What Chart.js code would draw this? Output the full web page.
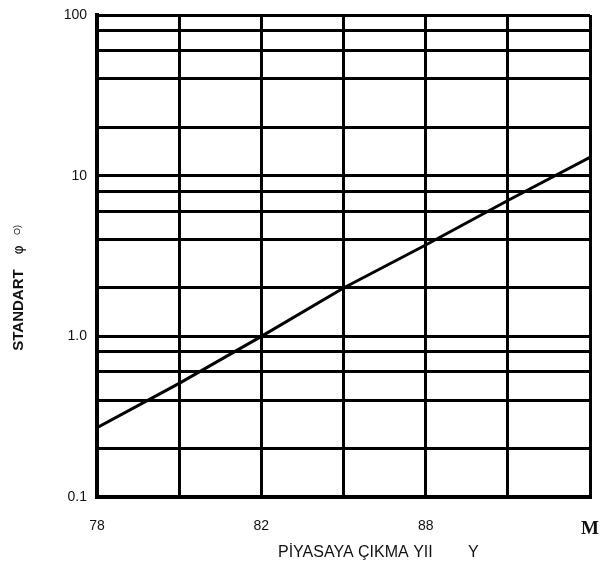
<!DOCTYPE html>
<html>
<head>
<meta charset="utf-8">
<script src="https://cdn.jsdelivr.net/npm/chart.js@4.4.1/dist/chart.umd.min.js"></script>
<style>
  html,body{margin:0;padding:0;background:#fff;}
  #wrap{width:601px;height:561px;}
</style>
</head>
<body>
<div id="wrap"><canvas id="c" width="601" height="561"></canvas></div>
<script>
// data (x = grid column, y = log scale value)
const xValues = [0, 1, 2, 3, 4, 5, 6];
const yValues = [0.27, 0.51, 1.0, 2.0, 3.7, 7.0, 13];
const xTickLabels = ['78', '', '82', '', '88', '', 'M'];
const yTickValues = [0.1, 0.2, 0.4, 0.6, 0.8, 1, 2, 4, 6, 8, 10, 20, 40, 60, 80, 100];
const yTickLabels = {0.1: '0.1', 1: '1.0', 10: '10', 100: '100'};

const yTitle = 'STANDART';
const xTitle = 'PİYASAYA ÇIKMA YII';
const xTitleTail = 'Y';

// titles drawn by hand so they sit where the scan has them
const titles = {
  id: 'titles',
  afterDraw(chart){
    const ctx = chart.ctx;
    ctx.save();
    ctx.fillStyle = '#111';
    ctx.textBaseline = 'alphabetic';
    ctx.font = '16px "Liberation Sans", Arial, sans-serif';
    ctx.textAlign = 'left';
    ctx.fillText(xTitle, 278, 557);
    ctx.fillText(xTitleTail, 468, 557);

    ctx.rotate(-Math.PI/2);
    ctx.textAlign = 'center';
    ctx.font = 'bold 15px "Liberation Sans", Arial, sans-serif';
    ctx.fillText(yTitle, -310, 23);
    ctx.font = '14px "DejaVu Sans", sans-serif';
    ctx.fillText('φ', -250, 23);
    ctx.font = '9px "Liberation Sans", Arial, sans-serif';
    ctx.fillText('O)', -230, 20);
    ctx.restore();
  }
};

new Chart(document.getElementById('c'), {
  type: 'line',
  data: {
    datasets: [{
      data: xValues.map((x, i) => ({x: x, y: yValues[i]})),
      borderColor: '#000',
      borderWidth: 3,
      pointRadius: 0,
      tension: 0,
      fill: false
    }]
  },
  options: {
    responsive: false,
    animation: false,
    layout: {padding: {top: 15, right: 11, left: 0, bottom: 0}},
    plugins: {legend: {display: false}, tooltip: {enabled: false}},
    scales: {
      x: {
        type: 'linear', min: 0, max: 6,
        afterFit(s){ s.height = 64; s.paddingLeft = 0; s.paddingRight = 0; },
        afterBuildTicks(s){ s.ticks = xValues.map(v => ({value: v})); },
        grid: {color: '#000', lineWidth: 3, drawTicks: false},
        border: {display: true, color: '#000', width: 4},
        ticks: {
          padding: 21,
          color: '#111',
          maxRotation: 0,
          autoSkip: false,
          callback: (v) => xTickLabels[v] ?? '',
          font: (c) => (c.tick && c.tick.value === 6)
            ? {family: '"Liberation Serif", "Times New Roman", serif', size: 19, weight: 'bold'}
            : {family: '"Liberation Sans", Arial, sans-serif', size: 14}
        }
      },
      y: {
        type: 'logarithmic', min: 0.1, max: 100,
        afterFit(s){ s.width = 97; s.paddingTop = 0; s.paddingBottom = 0; },
        afterBuildTicks(s){ s.ticks = yTickValues.map(v => ({value: v})); },
        grid: {color: '#000', lineWidth: 3, drawTicks: false},
        border: {display: true, color: '#000', width: 4},
        ticks: {
          padding: 10,
          color: '#111',
          autoSkip: false,
          font: {family: '"Liberation Sans", Arial, sans-serif', size: 14},
          callback: (v) => yTickLabels[v] ?? ''
        }
      }
    }
  },
  plugins: [titles]
});
</script>
</body>
</html>
